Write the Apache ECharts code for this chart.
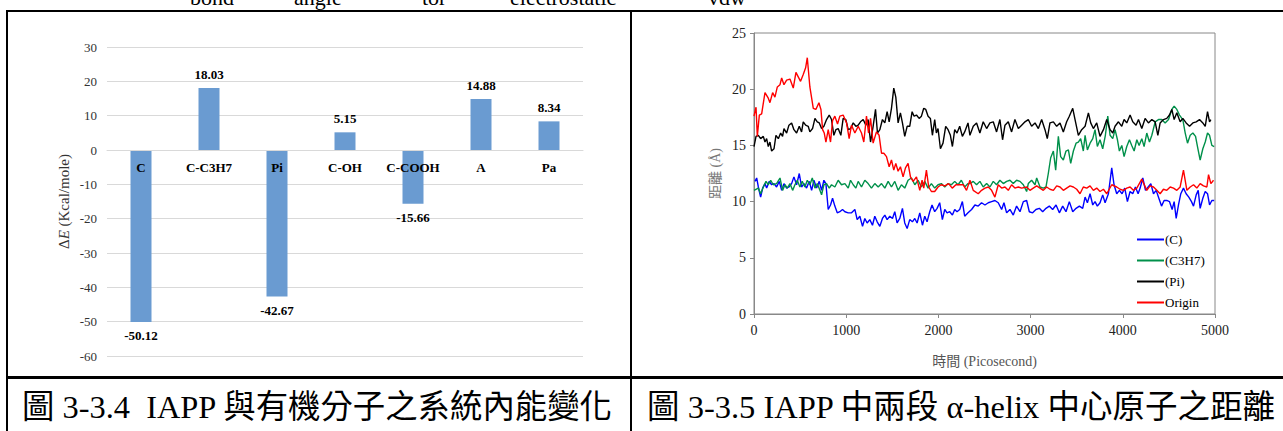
<!DOCTYPE html>
<html>
<head>
<meta charset="utf-8">
<script src="https://cdn.jsdelivr.net/npm/echarts@6/dist/echarts.min.js"></script>
<style>
  html, body { margin: 0; padding: 0; background: #fff; }
  #chart { width: 1283px; height: 431px; }
</style>
</head>
<body>
<div id="chart"></div>
<script>
// 左圖：系統內能變化
const categories = ['C', 'C-C3H7', 'Pi', 'C-OH', 'C-COOH', 'A', 'Pa']
const energy = [-50.12, 18.03, -42.67, 5.15, -15.66, 14.88, 8.34]

// 右圖：距離 vs 時間 [ps, Å]
const distC = [[11,11.8],[29,12.1],[47,11.3],[72,10.4],[94,11.2],[119,11.6],[137,11.2],[166,11.8],[191,11.5],[217,11.6],[245,11.3],[274,11.8],[300,11.0],[325,11.6],[354,11.2],[379,11.3],[408,11.6],[433,12.2],[462,11.5],[491,12.5],[516,11.3],[542,11.6],[570,11.2],[599,11.8],[625,11.0],[650,11.9],[679,11.2],[708,11.8],[733,11.0],[758,11.9],[780,11.6],[805,9.3],[830,9.7],[852,10.3],[877,9.6],[903,9.0],[931,9.1],[960,9.3],[986,9.1],[1022,9.0],[1058,9.0],[1094,9.3],[1119,8.4],[1148,8.7],[1177,7.8],[1202,8.5],[1227,8.1],[1256,8.4],[1285,7.9],[1310,8.7],[1336,8.2],[1365,7.8],[1393,8.5],[1419,8.8],[1444,8.4],[1473,8.7],[1502,8.5],[1527,9.1],[1552,8.1],[1581,8.5],[1610,9.4],[1635,8.1],[1661,7.6],[1689,8.4],[1718,8.2],[1744,8.5],[1769,8.1],[1798,9.0],[1827,7.9],[1852,8.7],[1877,8.2],[1906,9.1],[1931,9.7],[1960,9.1],[1986,9.4],[2014,9.9],[2043,8.4],[2069,9.3],[2094,9.0],[2123,9.1],[2152,8.8],[2177,9.3],[2202,9.1],[2231,9.3],[2260,10.0],[2285,8.7],[2321,9.0],[2360,9.3],[2396,9.7],[2432,9.6],[2468,9.9],[2505,9.7],[2541,9.9],[2577,10.0],[2613,10.1],[2649,9.9],[2686,9.3],[2711,9.9],[2740,9.0],[2776,9.3],[2812,8.8],[2848,9.6],[2885,9.1],[2921,10.0],[2957,10.1],[2986,9.1],[3022,9.0],[3058,9.3],[3095,9.4],[3131,9.1],[3167,9.4],[3203,9.6],[3239,9.3],[3276,9.7],[3312,9.0],[3348,9.6],[3384,9.1],[3420,10.0],[3457,9.1],[3493,9.4],[3529,9.6],[3565,9.4],[3591,10.4],[3616,9.9],[3645,10.7],[3674,9.7],[3699,10.0],[3724,9.6],[3753,9.9],[3782,10.6],[3808,9.9],[3844,10.7],[3880,13.0],[3905,11.5],[3934,10.7],[3963,11.0],[3992,10.7],[4021,11.2],[4050,10.0],[4079,10.9],[4108,10.7],[4137,11.3],[4166,10.7],[4188,11.2],[4217,12.1],[4246,11.0],[4275,11.3],[4304,11.6],[4333,10.7],[4362,11.0],[4391,10.3],[4420,9.6],[4448,10.1],[4477,10.1],[4506,10.0],[4535,9.3],[4557,10.0],[4579,8.5],[4604,9.7],[4629,10.7],[4658,11.2],[4687,10.7],[4716,10.4],[4745,10.0],[4767,9.6],[4796,10.6],[4818,11.0],[4839,9.4],[4868,10.3],[4894,10.9],[4919,10.7],[4941,9.7],[4966,10.1],[4991,10.1]]

const distC3H7 = [[0,11.0],[47,11.2],[72,10.7],[101,11.3],[130,11.8],[155,11.5],[181,11.9],[209,11.5],[245,11.6],[282,12.1],[310,11.0],[336,11.5],[361,11.2],[390,11.6],[419,11.0],[444,11.5],[469,11.9],[498,11.3],[523,11.8],[552,11.3],[578,11.9],[606,11.5],[632,12.1],[661,11.2],[686,11.6],[715,11.0],[733,10.6],[758,11.5],[787,11.6],[816,11.2],[841,11.5],[877,11.3],[913,11.9],[949,11.5],[986,11.6],[1022,11.2],[1047,11.9],[1076,11.5],[1105,11.2],[1130,11.8],[1166,11.3],[1202,11.9],[1238,11.6],[1274,11.2],[1310,11.6],[1347,11.3],[1383,11.6],[1419,11.2],[1455,11.8],[1491,11.3],[1527,11.8],[1563,11.0],[1599,11.5],[1635,11.2],[1671,11.9],[1708,12.1],[1744,11.5],[1780,11.9],[1816,11.3],[1852,11.8],[1888,11.2],[1924,11.6],[1960,11.2],[1996,11.5],[2032,11.6],[2069,11.3],[2105,11.6],[2141,11.5],[2177,11.8],[2213,11.5],[2249,11.9],[2285,11.3],[2321,11.6],[2342,11.6],[2378,11.8],[2414,11.5],[2450,11.8],[2486,11.3],[2523,11.6],[2559,11.3],[2595,11.8],[2631,11.5],[2667,11.9],[2704,11.6],[2740,11.8],[2776,11.9],[2812,11.6],[2848,11.9],[2885,11.8],[2921,11.5],[2957,10.9],[2975,11.6],[3011,11.9],[3048,11.5],[3066,12.1],[3102,11.3],[3138,11.2],[3167,11.3],[3192,12.5],[3218,13.9],[3247,14.5],[3272,12.8],[3301,15.8],[3326,14.0],[3355,13.7],[3384,14.5],[3410,14.6],[3435,13.4],[3464,14.5],[3493,15.2],[3518,15.3],[3543,15.6],[3572,14.5],[3591,15.9],[3616,14.6],[3645,15.2],[3674,15.6],[3699,16.4],[3724,14.9],[3753,15.5],[3782,14.7],[3811,15.9],[3837,17.6],[3862,15.9],[3891,15.6],[3916,16.4],[3942,15.5],[3963,14.5],[3989,15.0],[4014,14.0],[4043,14.9],[4072,15.5],[4097,15.0],[4123,14.5],[4152,15.5],[4177,15.0],[4206,15.6],[4231,14.9],[4260,16.1],[4289,15.3],[4315,15.9],[4351,17.1],[4387,17.3],[4423,17.3],[4459,17.0],[4496,17.3],[4532,18.2],[4557,18.5],[4586,18.2],[4615,17.7],[4651,17.3],[4677,16.1],[4702,15.2],[4731,15.9],[4760,16.1],[4789,15.8],[4810,14.9],[4839,13.7],[4868,14.7],[4894,15.3],[4919,16.1],[4941,15.9],[4966,15.0],[4991,14.9]]

const distPi = [[0,14.9],[22,15.8],[47,15.9],[72,15.6],[101,15.8],[119,15.3],[137,15.6],[155,14.9],[173,15.3],[191,14.5],[217,14.7],[238,15.9],[264,15.6],[289,16.1],[310,15.8],[325,16.5],[354,16.1],[379,16.8],[408,17.0],[433,16.4],[462,16.1],[491,16.7],[516,16.2],[534,17.1],[560,16.8],[588,16.7],[606,16.2],[635,16.5],[661,17.4],[686,17.1],[708,17.0],[733,16.5],[758,16.7],[787,17.3],[816,17.7],[841,17.3],[866,15.9],[888,16.4],[913,16.5],[942,15.9],[967,17.4],[996,17.3],[1022,16.4],[1047,16.5],[1076,17.0],[1105,16.7],[1130,16.8],[1155,17.1],[1184,17.3],[1213,16.8],[1238,17.3],[1264,15.3],[1292,16.7],[1318,18.2],[1339,16.1],[1365,16.4],[1393,17.3],[1419,17.0],[1444,18.0],[1466,17.1],[1491,18.3],[1516,20.1],[1538,19.3],[1563,17.0],[1588,17.9],[1610,17.0],[1635,15.8],[1661,16.7],[1689,16.7],[1715,18.0],[1736,17.6],[1762,17.7],[1791,17.4],[1816,17.6],[1841,18.3],[1863,18.2],[1888,17.6],[1913,17.4],[1935,15.9],[1960,17.3],[1978,16.1],[1996,16.5],[2022,14.7],[2050,15.2],[2079,16.7],[2105,16.4],[2130,15.9],[2152,14.9],[2177,16.4],[2202,16.1],[2231,16.7],[2260,15.8],[2285,16.2],[2321,17.0],[2342,15.9],[2378,16.7],[2414,17.0],[2450,16.1],[2486,17.1],[2523,16.5],[2559,17.0],[2595,17.1],[2631,16.2],[2667,17.3],[2696,15.5],[2722,16.8],[2758,17.1],[2794,16.2],[2830,17.3],[2867,16.5],[2903,16.8],[2939,17.1],[2975,17.3],[3011,16.7],[3048,17.0],[3084,16.5],[3120,17.3],[3156,16.4],[3181,15.6],[3210,17.0],[3247,17.1],[3283,16.7],[3319,17.0],[3355,16.2],[3391,17.1],[3420,17.6],[3457,18.3],[3482,17.3],[3518,15.9],[3554,16.4],[3591,16.7],[3627,17.9],[3652,17.0],[3681,16.5],[3717,17.0],[3753,15.8],[3790,16.4],[3826,17.3],[3862,16.4],[3891,16.1],[3916,16.7],[3953,17.1],[3989,16.7],[4014,17.3],[4043,17.0],[4079,17.7],[4108,17.1],[4144,16.8],[4170,17.3],[4206,16.5],[4242,17.4],[4278,17.0],[4315,17.3],[4351,17.1],[4380,15.9],[4405,17.0],[4441,17.3],[4477,17.4],[4506,17.7],[4532,18.2],[4557,17.3],[4586,17.9],[4622,17.1],[4651,17.4],[4687,17.0],[4724,16.7],[4760,17.0],[4796,17.1],[4832,17.3],[4868,17.0],[4894,16.7],[4919,18.0],[4941,17.1],[4955,17.3]]

const distOrigin = [[0,17.6],[22,18.4],[36,15.8],[58,17.7],[83,17.8],[119,19.7],[155,19.2],[173,18.8],[202,19.7],[227,19.3],[253,20.2],[282,20.4],[300,21.0],[325,20.4],[354,20.8],[390,20.9],[426,20.1],[455,21.5],[480,21.1],[505,20.7],[534,21.3],[560,21.9],[578,22.8],[606,20.2],[643,18.3],[671,18.2],[704,18.8],[726,18.2],[744,16.4],[762,16.1],[780,15.3],[805,16.4],[830,15.3],[852,17.2],[877,17.6],[906,16.9],[931,17.6],[967,17.7],[1004,17.0],[1032,15.6],[1058,16.8],[1094,16.1],[1130,16.7],[1166,16.1],[1191,15.3],[1220,17.6],[1242,16.1],[1264,17.4],[1292,15.2],[1328,16.2],[1357,15.9],[1383,14.3],[1408,14.3],[1437,14.0],[1466,13.1],[1491,13.7],[1516,12.8],[1538,13.4],[1563,12.7],[1588,13.1],[1617,12.2],[1643,13.0],[1671,13.4],[1697,12.2],[1726,11.8],[1762,12.2],[1798,11.0],[1823,11.9],[1841,11.2],[1870,12.8],[1895,11.3],[1924,10.9],[1960,10.9],[1996,11.3],[2030,11.5],[2070,11.4],[2110,11.6],[2150,11.2],[2190,11.5],[2269,11.5],[2305,11.0],[2342,11.9],[2378,11.0],[2432,10.7],[2468,11.0],[2505,11.2],[2541,11.3],[2577,11.0],[2613,10.4],[2649,11.5],[2686,11.2],[2722,11.3],[2758,11.0],[2794,11.5],[2830,11.2],[2867,11.3],[2903,11.2],[2957,11.3],[2993,11.0],[3029,11.2],[3066,11.4],[3102,11.2],[3138,11.0],[3174,11.3],[3210,11.1],[3247,11.0],[3283,11.4],[3319,11.3],[3355,11.0],[3391,11.2],[3428,11.4],[3464,11.3],[3500,11.1],[3536,10.7],[3572,11.3],[3609,11.2],[3645,11.4],[3681,11.0],[3717,11.2],[3753,10.9],[3790,11.1],[3826,10.7],[3880,11.5],[3934,11.3],[3970,11.1],[4007,11.0],[4043,11.2],[4079,11.3],[4115,11.0],[4152,11.2],[4206,12.0],[4260,11.0],[4296,11.4],[4333,11.3],[4369,11.0],[4405,10.7],[4441,11.1],[4477,11.0],[4514,11.3],[4550,11.2],[4586,11.0],[4622,11.3],[4658,12.8],[4695,11.0],[4731,11.3],[4767,11.5],[4803,11.2],[4839,11.6],[4875,11.4],[4912,11.3],[4930,12.4],[4955,11.6],[4984,11.9]]

const topWords = ['bond', 'angle', 'tor', 'electrostatic', 'vdw']
const topWordX = [190, 294, 422, 510, 708]

const serif = "'Times New Roman', 'Liberation Serif', serif"
const captionFont = "'Times New Roman', 'Liberation Serif', 'Noto Sans CJK TC', serif"

const chart = echarts.init(document.getElementById('chart'), null, { renderer: 'svg' })

const barData = energy.map(v => ({
  value: v,
  label: { position: v >= 0 ? 'top' : 'bottom' }
}))

const lineSeries = [
  { name: '(C)', data: distC, color: '#0000ff' },
  { name: '(C3H7)', data: distC3H7, color: '#00904a' },
  { name: '(Pi)', data: distPi, color: '#000000' },
  { name: 'Origin', data: distOrigin, color: '#ff0000' }
].map(s => ({
  name: s.name,
  type: 'line',
  xAxisIndex: 1,
  yAxisIndex: 1,
  symbol: 'none',
  showSymbol: false,
  data: s.data,
  itemStyle: { color: s.color },
  lineStyle: { color: s.color, width: 1.4 }
}))

const graphics = [
  // 表格框線
  { type: 'rect', shape: { x: 6, y: 10, width: 1283, height: 2 }, style: { fill: '#000' } },
  { type: 'rect', shape: { x: 6, y: 10, width: 2, height: 430 }, style: { fill: '#000' } },
  { type: 'rect', shape: { x: 630, y: 10, width: 2, height: 430 }, style: { fill: '#000' } },
  { type: 'rect', shape: { x: 6, y: 376, width: 1283, height: 3 }, style: { fill: '#000' } },
  {
    type: 'text', left: 22, top: 391,
    style: { text: '圖 3-3.4  IAPP 與有機分子之系統內能變化', font: '32.4px ' + captionFont, fill: '#000' }
  },
  {
    type: 'text', left: 647, top: 391,
    style: { text: '圖 3-3.5 IAPP 中兩段 α-helix 中心原子之距離', font: '32.5px ' + captionFont, fill: '#000' }
  }
]
topWords.forEach((w, i) => {
  graphics.push({
    type: 'text', left: topWordX[i], top: -14,
    style: { text: w, font: '22px ' + serif, fill: '#000' }
  })
})

const option = {
  animation: false,
  backgroundColor: '#fff',
  grid: [
    { left: 107, top: 47, width: 476, height: 309 },
    { left: 754, top: 33, width: 461, height: 281, show: true, borderColor: '#888', borderWidth: 1 }
  ],
  legend: {
    orient: 'vertical',
    left: 1132,
    top: 228,
    icon: 'rect',
    itemWidth: 27,
    itemHeight: 2,
    itemGap: 8,
    data: ['(C)', '(C3H7)', '(Pi)', 'Origin'],
    textStyle: { fontFamily: serif, fontSize: 13, color: '#000', padding: [0, 0, 0, -4] }
  },
  xAxis: [
    {
      gridIndex: 0,
      type: 'category',
      data: categories,
      z: 10,
      position: 'bottom',
      offset: -206,
      axisLine: { onZero: false, lineStyle: { color: '#d9d9d9' } },
      axisTick: { show: false },
      axisLabel: { interval: 0, margin: 11, fontFamily: serif, fontWeight: 'bold', fontSize: 13, color: '#000' }
    },
    {
      gridIndex: 1,
      type: 'value',
      min: 0,
      max: 5000,
      interval: 1000,
      name: '時間 (Picosecond)',
      nameLocation: 'middle',
      nameGap: 40,
      nameTextStyle: { fontFamily: captionFont, fontSize: 14, color: '#555' },
      axisLine: { lineStyle: { color: '#888' } },
      axisTick: { length: 4, lineStyle: { color: '#888' } },
      splitLine: { show: false },
      axisLabel: { margin: 9, fontFamily: serif, fontSize: 14, color: '#222', formatter: v => String(v) }
    }
  ],
  yAxis: [
    {
      gridIndex: 0,
      type: 'value',
      min: -60,
      max: 30,
      interval: 10,
      name: '{d|Δ}{i|E}{d| (Kcal/mole)}',
      nameLocation: 'middle',
      nameRotate: 90,
      nameGap: 36,
      nameTextStyle: {
        rich: {
          d: { fontFamily: serif, fontSize: 15, color: '#333' },
          i: { fontFamily: serif, fontSize: 15, color: '#333', fontStyle: 'italic' }
        }
      },
      axisLine: { show: false },
      axisTick: { show: false },
      splitLine: { lineStyle: { color: '#d9d9d9' } },
      axisLabel: { margin: 10, fontFamily: serif, fontSize: 13, color: '#333' }
    },
    {
      gridIndex: 1,
      type: 'value',
      min: 0,
      max: 25,
      interval: 5,
      name: '距離 (Å)',
      nameLocation: 'middle',
      nameRotate: 90,
      nameGap: 32,
      nameTextStyle: { fontFamily: captionFont, fontSize: 14, color: '#777' },
      axisLine: { lineStyle: { color: '#888' } },
      axisTick: { length: 4, lineStyle: { color: '#888' } },
      splitLine: { show: false },
      axisLabel: { margin: 8, fontFamily: serif, fontSize: 14, color: '#222' }
    }
  ],
  series: [
    {
      type: 'bar',
      xAxisIndex: 0,
      yAxisIndex: 0,
      barWidth: 21,
      data: barData,
      itemStyle: { color: '#6a9bd1' },
      label: {
        show: true,
        distance: 7,
        fontFamily: serif,
        fontWeight: 'bold',
        fontSize: 13,
        color: '#000'
      }
    },
    ...lineSeries
  ],
  graphic: graphics
}

chart.setOption(option)
</script>
</body>
</html>
